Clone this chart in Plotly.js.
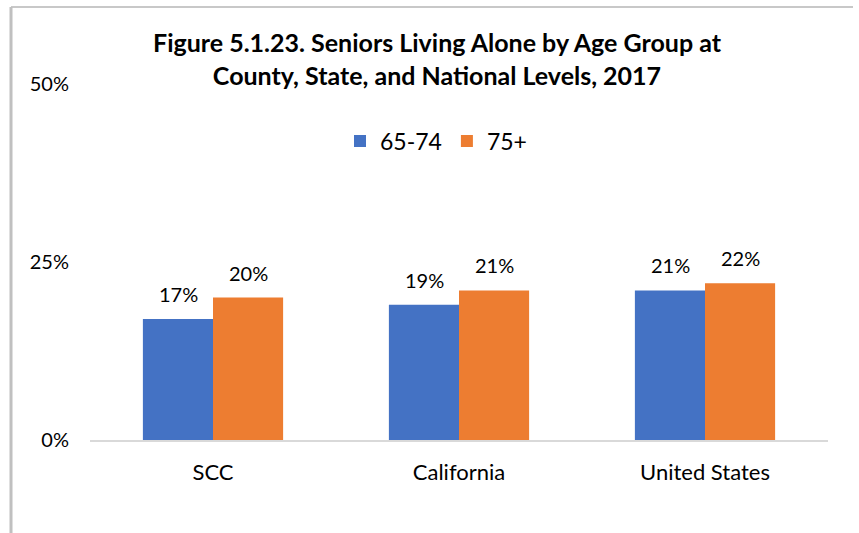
<!DOCTYPE html>
<html>
<head>
<meta charset="utf-8">
<script src="https://cdn.plot.ly/plotly-3.0.1.min.js"></script>
<style>
html,body{margin:0;padding:0;background:#fff;}
#chart{width:859px;height:533px;}
</style>
</head>
<body>
<div id="chart"></div>
<script>
const categories = ["SCC", "California", "United States"];
const seriesNames = ["65-74", "75+"];
const values6574 = [17, 19, 21];
const values75 = [20, 21, 22];
const yTicks = [0, 25, 50];
const yTickLabels = ["0%", "25%", "50%"];
const colors = ["#4472c4", "#ed7d31"];

const W = 859, H = 533;
const margin = {l: 90, r: 31, t: 84, b: 93};
const pw = W - margin.l - margin.r, ph = H - margin.t - margin.b;
const px2x = p => (p - margin.l) / pw;
const py2y = p => (H - margin.b - p) / ph;

const font = "Lato, 'Open Sans', sans-serif";
const labelSize = 20;

function mk(name, vals, color) {
  return {
    type: "bar", name: name, x: categories, y: vals,
    marker: {color: color}, hoverinfo: "none"
  };
}

const data = [mk(seriesNames[0], values6574, colors[0]), mk(seriesNames[1], values75, colors[1])];

const annotations = [];
[[values6574, -35], [values75, 35]].forEach(([vals, dx]) => {
  vals.forEach((v, i) => {
    annotations.push({
      x: categories[i], y: v, xref: "x", yref: "y",
      text: v + "%", showarrow: false, xanchor: "center", yanchor: "bottom",
      xshift: dx, yshift: 11,
      font: {family: font, size: labelSize, color: "#000"}
    });
  });
});

const layout = {
  width: W, height: H, margin: margin,
  paper_bgcolor: "#fff", plot_bgcolor: "#fff",
  barmode: "group", bargap: 0.43, bargroupgap: 0,
  font: {family: font, color: "#000"},
  title: {
    text: "<b>Figure 5.1.23. Seniors Living Alone by Age Group at<br>County, State, and National Levels, 2017</b>",
    font: {family: font, size: 25, color: "#000"},
    x: 437 / W, xanchor: "center", xref: "container",
    y: 1 - 52 / H, yanchor: "middle", yref: "container"
  },
  legend: {
    orientation: "h", x: px2x(340), xanchor: "left", y: py2y(141), yanchor: "middle",
    font: {family: font, size: 23, color: "#000"}, itemwidth: 30, traceorder: "normal",
    bgcolor: "rgba(0,0,0,0)"
  },
  annotations: annotations,
  xaxis: {
    showgrid: false, showline: true, linecolor: "#d9d9d9", linewidth: 2,
    tickfont: {family: font, size: 22, color: "#000"}, ticks: "", ticklabelstandoff: 12, fixedrange: true
  },
  yaxis: {
    range: [0, 50], tickvals: yTicks, ticktext: yTickLabels,
    showgrid: false, zeroline: false, showline: false, ticks: "",
    tickfont: {family: font, size: 20, color: "#000"}, ticklabelstandoff: 20, fixedrange: true
  },
  shapes: [
    {type: "line", xref: "paper", yref: "paper", x0: px2x(11), x1: px2x(853), y0: py2y(7), y1: py2y(7), line: {color: "#c8c8c8", width: 2}},
    {type: "line", xref: "paper", yref: "paper", x0: px2x(11), x1: px2x(11), y0: py2y(7), y1: py2y(540), line: {color: "#c0c0c0", width: 3}}
  ]
};

Plotly.newPlot("chart", data, layout, {displayModeBar: false, staticPlot: true});
</script>
</body>
</html>
